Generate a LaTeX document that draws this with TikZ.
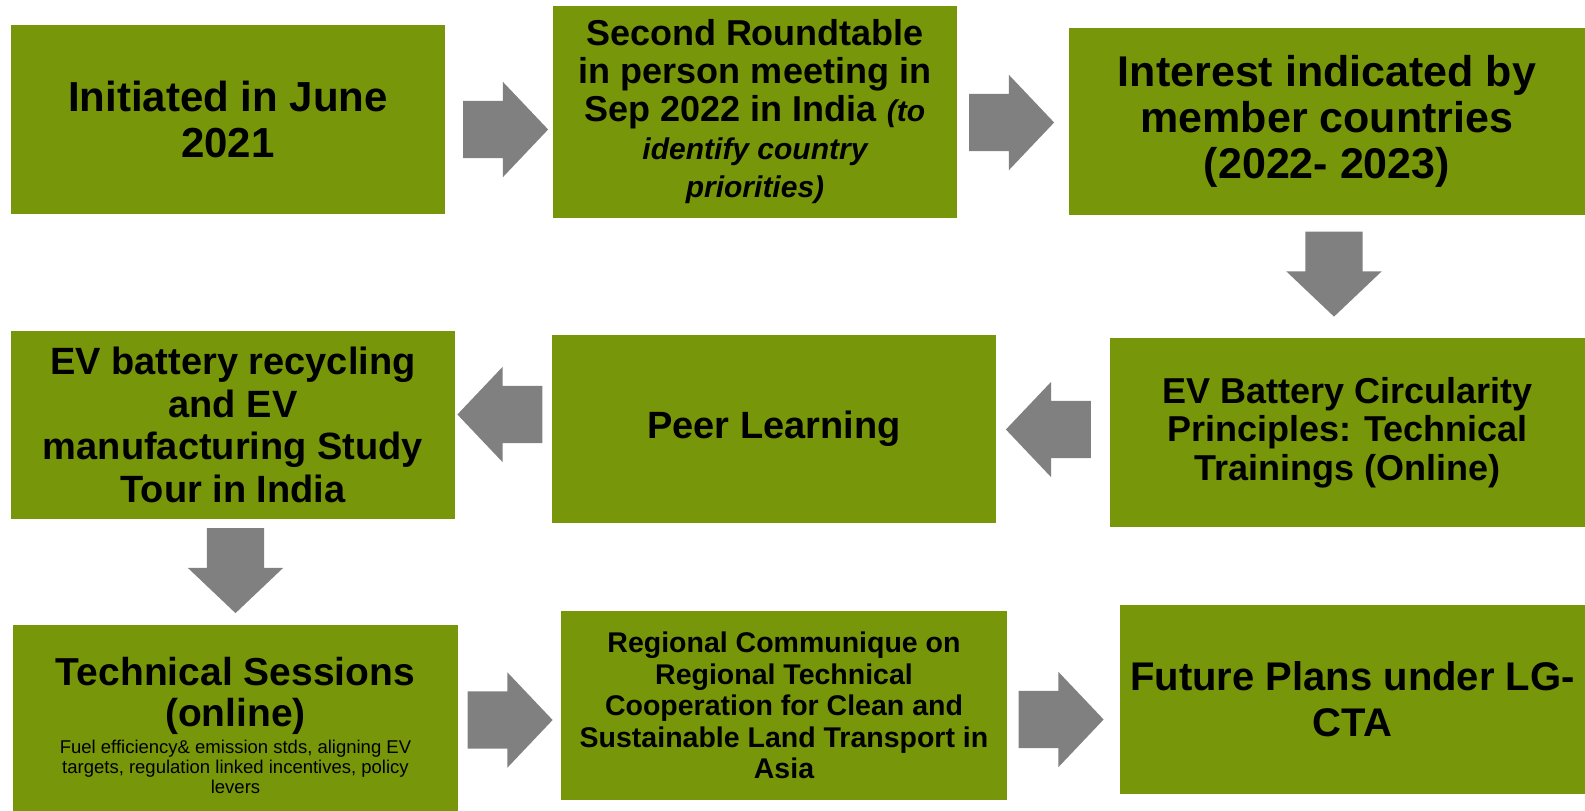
\documentclass[tikz,border=0pt]{standalone}
\usepackage{fontspec}
\setmainfont{Liberation Sans}
\usetikzlibrary{shapes.arrows}
\definecolor{stagegreen}{RGB}{120,150,10}
\definecolor{arrowgray}{RGB}{128,128,128}
\newcommand{\ittxt}[1]{{\itshape\fontsize{30}{36}\selectfont #1}}
\begin{document}
\begin{tikzpicture}[x=1pt,y=-1pt,every text node part/.style={align=center},
stage/.style={fill=stagegreen, draw=none, inner sep=0pt, text=black},
blockarrow/.style={single arrow, fill=arrowgray, draw=none, inner sep=0pt, text height=57pt, text depth=0pt, minimum height=85pt, single arrow head extend=19pt, single arrow tip angle=93}]
\useasboundingbox (0,0) rectangle (1585,811);
\node [stage, minimum width=434pt, minimum height=189pt, font=\bfseries\fontsize{42}{46}\selectfont] (init) at (228,119.5) {Initiated in June\\2021};
\node [stage, minimum width=404pt, minimum height=212pt, font=\bfseries\fontsize{36}{38}\selectfont] (round) at (755,112) {Second Roundtable\\in person meeting in\\Sep 2022 in India \ittxt{(to}\\\ittxt{identify country}\\\ittxt{priorities)}};
\node [stage, minimum width=516pt, minimum height=187pt, font=\bfseries\fontsize{43}{46}\selectfont] (interest) at (1327,121.5) {Interest indicated by\\member countries\\(2022- 2023)};
\node [stage, minimum width=475pt, minimum height=189pt, font=\bfseries\fontsize{36}{38.5}\selectfont] (circ) at (1347.5,432.5) {EV Battery Circularity\\Principles: Technical\\Trainings (Online)};
\node [stage, minimum width=444pt, minimum height=188pt, font=\bfseries\fontsize{38}{42}\selectfont] (peer) at (774,429) {Peer Learning};
\node [stage, minimum width=444pt, minimum height=188pt, font=\bfseries\fontsize{38}{42.5}\selectfont] (tour) at (233,425) {EV battery recycling\\and EV\\manufacturing Study\\Tour in India};
\node [stage, minimum width=445pt, minimum height=186pt, font=\bfseries\fontsize{39}{41}\selectfont] (sessions) at (235.5,718) {\rule{0pt}{49pt}Technical Sessions\\(online)\\[-14pt]{\mdseries\fontsize{18.5}{20}\selectfont\begin{tabular}[t]{@{}c@{}}Fuel efficiency\& emission stds, aligning EV\\targets, regulation linked incentives, policy\\levers\end{tabular}}};
\node [stage, minimum width=446pt, minimum height=189pt, font=\bfseries\fontsize{28.5}{31.4}\selectfont] (commu) at (784,705.5) {Regional Communique on\\Regional Technical\\Cooperation for Clean and\\Sustainable Land Transport in\\Asia};
\node [stage, minimum width=465pt, minimum height=189pt, font=\bfseries\fontsize{40}{46}\selectfont] (future) at (1352.5,699.5) {Future Plans under LG-\\CTA};
\path (init.east) -- (round.west) node[midway, blockarrow, xshift=-7pt, yshift=-13.75pt] {};
\path (round.east) -- (interest.west) node[midway, blockarrow, xshift=-15pt, yshift=-5.75pt] {};
\path (interest.south) -- (circ.north) node[midway, blockarrow, xshift=-3.25pt, yshift=16pt, rotate=-90] {};
\path (circ.west) -- (peer.east) node[midway, blockarrow, xshift=9pt, yshift=1.25pt, rotate=180] {};
\path (peer.west) -- (tour.east) node[midway, blockarrow, xshift=10pt, yshift=12.5pt, rotate=180] {};
\path (tour.south) -- (sessions.north) node[midway, blockarrow, xshift=1.25pt, yshift=15pt, rotate=-90] {};
\path (sessions.east) -- (commu.west) node[midway, blockarrow, xshift=-13pt, yshift=-8.25pt] {};
\path (commu.east) -- (future.west) node[midway, blockarrow, xshift=-16pt, yshift=-17pt] {};
\end{tikzpicture}
\end{document}
